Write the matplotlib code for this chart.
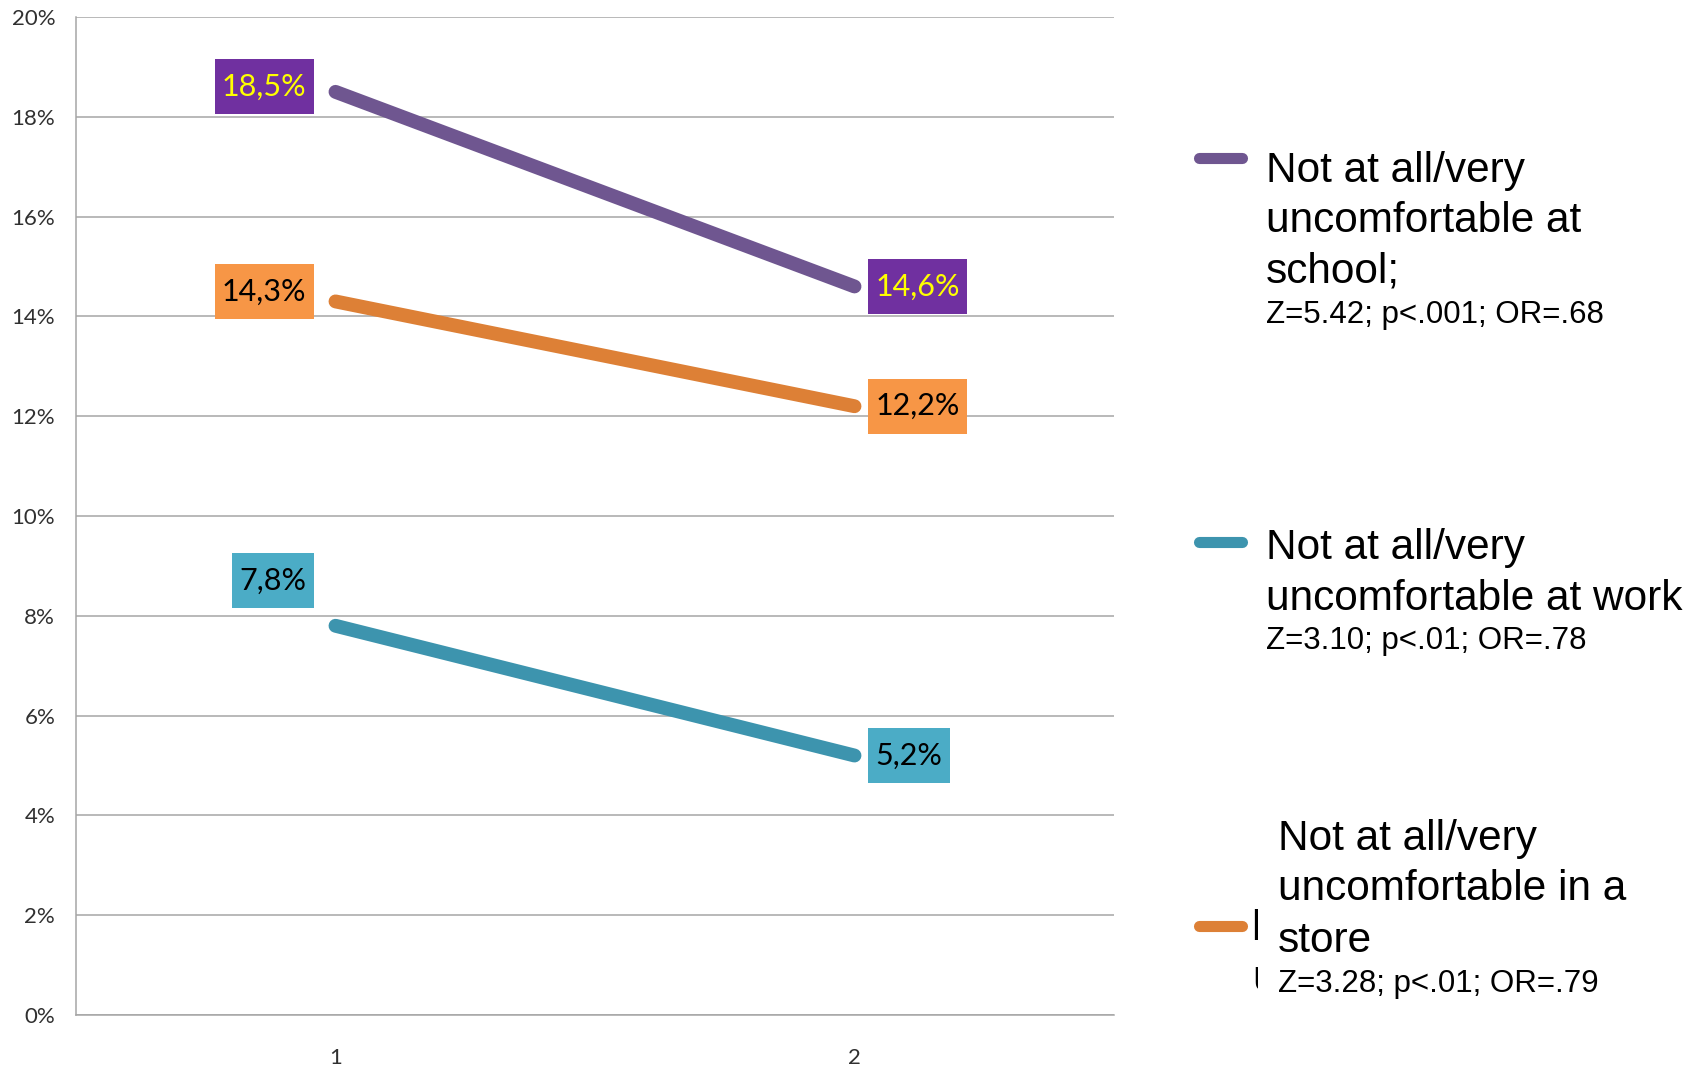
import matplotlib
matplotlib.use("Agg")
import matplotlib.pyplot as plt
from matplotlib.lines import Line2D
from matplotlib.path import Path
from matplotlib.transforms import Bbox, TransformedBbox

# ---------------- data ----------------
categories = ["1", "2"]
school = [18.5, 14.6]
store = [14.3, 12.2]
work = [7.8, 5.2]
school_labels = ["18,5%", "14,6%"]
store_labels = ["14,3%", "12,2%"]
work_labels = ["7,8%", "5,2%"]
yticks = [0, 2, 4, 6, 8, 10, 12, 14, 16, 18, 20]

legend_school = ["Not at all/very", "uncomfortable at", "school;"]
stats_school = "Z=5.42; p<.001; OR=.68"
legend_work = ["Not at all/very", "uncomfortable at work"]
stats_work = "Z=3.10; p<.01; OR=.78"
legend_store = ["Not at all/very", "uncomfortable in a", "store"]
stats_store = "Z=3.28; p<.01; OR=.79"
# glyph fragments of a hidden duplicate label peeking out next to the store marker
remnants = ["l", "u"]

# ---------------- styles ----------------
W, H = 1701, 1069
line_colors = {"school": "#6F5690", "store": "#DD8036", "work": "#3D94AE"}
box_colors = {"school": "#7030A0", "store": "#F79646", "work": "#4BACC6"}
text_colors = {"school": "#FFFF00", "store": "black", "work": "black"}
# label offsets in pixels (dx, dy) for point 1 and point 2
offsets = {
    "school": [(-29, 5), (21, 0)],
    "store": [(-29, 10), (21, 0)],
    "work": [(-29, 45), (21, 0)],
}
grid_color = "#A6A6A6"


def label_box(x0, y0, width, height, mutation_size):
    padx = 0.24 * mutation_size
    pady = 0.44 * mutation_size
    xa, ya = x0 - padx, y0 - pady
    xb, yb = x0 + width + padx, y0 + height + pady
    return Path([(xa, ya), (xb, ya), (xb, yb), (xa, yb), (xa, ya)], closed=True)


fig = plt.figure(figsize=(W / 100, H / 100), dpi=100)
fig.patch.set_facecolor("white")

ax_l, ax_r, ax_t, ax_b = 76, 1114, 17, 1015
ax = fig.add_axes([ax_l / W, (H - ax_b) / H, (ax_r - ax_l) / W, (ax_b - ax_t) / H])

x = list(range(1, len(categories) + 1))
series = [("school", school, school_labels),
          ("store", store, store_labels),
          ("work", work, work_labels)]

for key, vals, labs in series:
    ax.plot(x, vals, color=line_colors[key], lw=10, solid_capstyle="round", zorder=3)
    for i, (xi, v, lab) in enumerate(zip(x, vals, labs)):
        dx, dy = offsets[key][i]
        ax.annotate(lab, xy=(xi, v), xytext=(dx, dy), textcoords="offset pixels",
                    ha="right" if dx < 0 else "left", va="center",
                    fontsize=22, family="Lato", color=text_colors[key],
                    bbox=dict(boxstyle=label_box, fc=box_colors[key], ec="none"),
                    zorder=4)

ax.set_xlim(0.5, len(categories) + 0.5)
ax.set_ylim(0, 20)
ax.set_yticks(yticks)
ax.set_yticklabels([f"{t}%" for t in yticks], family="Lato", fontsize=16, color="#303030")
ax.set_xticks(x)
ax.set_xticklabels(categories, family="Lato", fontsize=16, color="#303030")
ax.tick_params(axis="both", length=0)
ax.tick_params(axis="y", pad=15)
ax.tick_params(axis="x", pad=24)
ax.grid(axis="y", color=grid_color, lw=1.1, zorder=0)
ax.set_axisbelow(True)
for s in ["top", "right"]:
    ax.spines[s].set_visible(False)
ax.spines["left"].set_color(grid_color)
ax.spines["left"].set_linewidth(1.1)
ax.spines["bottom"].set_color(grid_color)
ax.spines["bottom"].set_linewidth(1.1)


# ---------------- legend (figure pixel coords) ----------------
def fx(px):
    return px / W


def fy(py):
    return (H - py) / H


LF = "Liberation Sans"


def legend_marker(y, color):
    fig.add_artist(Line2D([fx(1199), fx(1242)], [fy(y), fy(y)], color=color, lw=8,
                          solid_capstyle="round", transform=fig.transFigure))


def legend_text(xp, baselines, lines, stats_base, stats):
    for b, t in zip(baselines, lines):
        fig.text(fx(xp), fy(b), t, fontsize=30.5, family=LF, va="baseline", ha="left")
    fig.text(fx(xp), fy(stats_base), stats, fontsize=22.5, family=LF, va="baseline", ha="left")


legend_marker(158, line_colors["school"])
legend_text(1266, [182, 232, 283], legend_school, 323, stats_school)

legend_marker(542, line_colors["work"])
legend_text(1266, [559, 610], legend_work, 649, stats_work)

legend_marker(926, line_colors["store"])
legend_text(1278, [850, 900, 952], legend_store, 992, stats_store)

# clipped remnants of the hidden original store label
clip = TransformedBbox(Bbox.from_extents(fx(1250), fy(1010), fx(1258), fy(890)), fig.transFigure)
for b, t, xo in zip([940, 990], remnants, [1251, 1252]):
    tt = fig.text(fx(xo), fy(b), t, fontsize=30.5, family=LF, va="baseline", ha="left")
    tt.set_clip_box(clip)
    tt.set_clip_on(True)

fig.savefig("out.png", dpi=100, facecolor="white")
